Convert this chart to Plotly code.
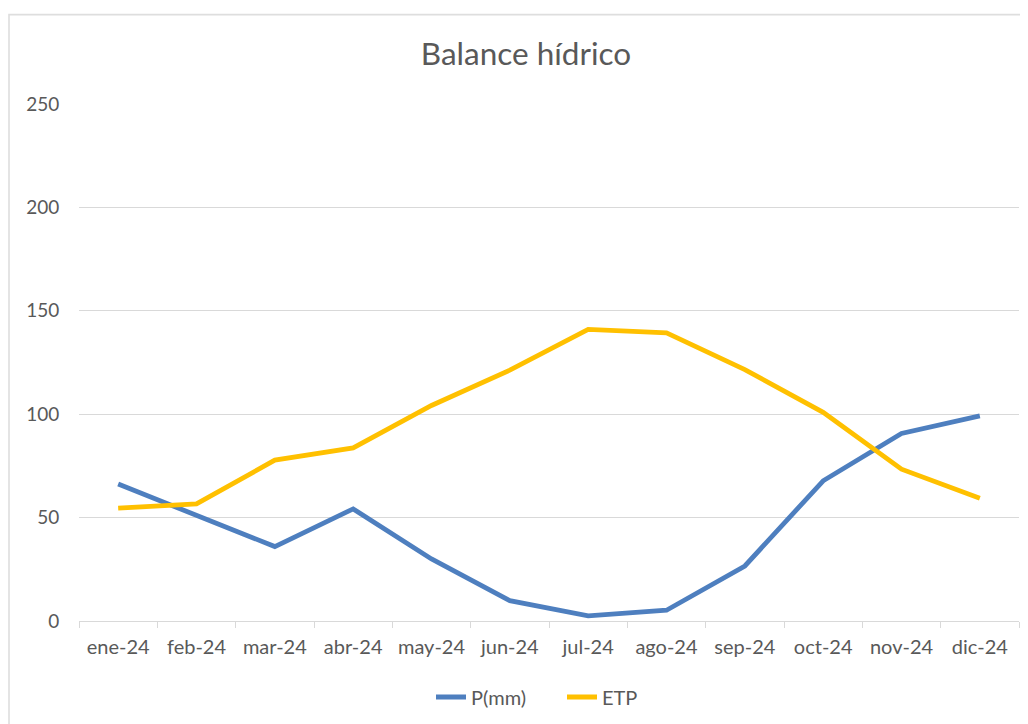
import plotly.graph_objects as go

months = ["ene-24", "feb-24", "mar-24", "abr-24", "may-24", "jun-24",
          "jul-24", "ago-24", "sep-24", "oct-24", "nov-24", "dic-24"]
p_mm = [66.2, 50.8, 36.0, 54.2, 30.0, 9.8, 2.5, 5.2, 26.6, 67.8, 90.7, 99.2]
etp = [54.6, 56.6, 77.8, 83.7, 104.2, 121.3, 141.0, 139.3, 121.6, 100.9, 73.4, 59.4]

y_ticks = [0, 50, 100, 150, 200, 250]

FONT = "Lato"
TXT = "#595959"
GRID = "#D9D9D9"

fig = go.Figure()
fig.add_trace(go.Scatter(x=months, y=p_mm, mode="lines", name="P(mm)",
                         line=dict(color="#4E7FBF", width=4.8)))
fig.add_trace(go.Scatter(x=months, y=etp, mode="lines", name="ETP",
                         line=dict(color="#FFC000", width=4.8)))

# page body has an 8px margin: work in page coords minus 8
OFF = 8
W, H = 1028 - OFF, 724 - OFF
L, R, T, B = 79 - OFF, 1019 - OFF, 104.3 - OFF, 620.7 - OFF

fig.update_layout(
    width=W, height=H,
    margin=dict(l=L, r=W - R, t=T, b=H - B, pad=0),
    paper_bgcolor="white", plot_bgcolor="white",
    font=dict(family=FONT, color=TXT, size=19),
    title=dict(text="Balance hídrico", font=dict(family=FONT, size=31.5, color=TXT),
               x=(526 - OFF) / W, xref="container", xanchor="center",
               y=1 - (54 - OFF) / H, yref="container", yanchor="middle"),
    showlegend=True,
    legend=dict(orientation="h", xref="container", yref="container",
                x=(431 - OFF) / W, xanchor="left", y=1 - (697 - OFF) / H,
                yanchor="middle", entrywidth=86, entrywidthmode="pixels",
                font=dict(family=FONT, size=20, color=TXT),
                bgcolor="rgba(0,0,0,0)"),
    xaxis=dict(type="category", range=[-0.5, len(months) - 0.5],
               showgrid=False, showline=True, linecolor=GRID, linewidth=1.3,
               ticks="outside", tickson="boundaries", ticklen=6, tickcolor=GRID,
               tickwidth=1.3, ticklabelstandoff=8,
               tickfont=dict(family=FONT, size=20, color=TXT),
               zeroline=False, fixedrange=True),
    yaxis=dict(range=[0, 250], tickvals=y_ticks, showgrid=True, gridcolor=GRID,
               gridwidth=1.3, zeroline=False, showline=False,
               ticks="outside", ticklen=15, tickcolor="rgba(0,0,0,0)",
               tickfont=dict(family=FONT, size=19, color=TXT), fixedrange=True),
)

# chart-area frame
pw, ph = R - L, B - T
fig.add_shape(type="rect", xref="paper", yref="paper",
              x0=(9 - OFF - L) / pw, x1=(1045 - OFF - L) / pw,
              y0=(B - 745) / ph, y1=(B - (15 - OFF)) / ph,
              line=dict(color="#DEDEDE", width=1.6), fillcolor="rgba(0,0,0,0)",
              layer="below")

fig.write_html("out.html")
